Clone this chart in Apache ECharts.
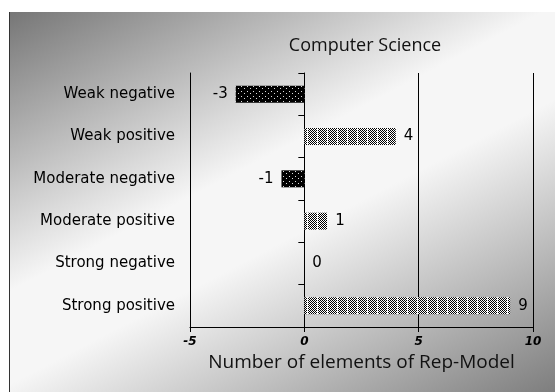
<!DOCTYPE html>
<html>
<head>
<meta charset="utf-8">
<script src="https://cdn.jsdelivr.net/npm/echarts@6/dist/echarts.min.js"></script>
<style>html,body{margin:0;padding:0;background:#fff;}#chart{width:555px;height:392px;}</style>
</head>
<body>
<div id="chart"></div>
<script>
var titleText = 'Computer Science';
var axisTitle = 'Number of elements of Rep-Model';
var categories = ['Weak negative', 'Weak positive', 'Moderate negative', 'Moderate positive', 'Strong negative', 'Strong positive'];
var values = [-3, 4, -1, 1, 0, 9];
var xTicks = [-5, 0, 5, 10];

function makeCanvas(w, h, draw) {
  var c = document.createElement('canvas');
  c.width = w; c.height = h;
  var ctx = c.getContext('2d');
  draw(ctx);
  return c;
}
// black with sparse white dots
var negPattern = makeCanvas(6, 5, function (ctx) {
  ctx.fillStyle = '#000'; ctx.fillRect(0, 0, 6, 5);
  ctx.fillStyle = '#ddd';
  ctx.fillRect(1, 1, 1, 1);
  ctx.fillRect(4, 3, 1, 1);
});
// dense checker dither
var posPattern = makeCanvas(10, 4, function (ctx) {
  ctx.fillStyle = '#fff'; ctx.fillRect(0, 0, 10, 4);
  ctx.fillStyle = '#000';
  for (var y = 0; y < 4; y++) {
    for (var x = 0; x < 10; x++) {
      if ((x + y) % 2 === 0 && !(x === 7 && y % 2 === 1)) ctx.fillRect(x, y, 1, 1);
    }
  }
});

var chart = echarts.init(document.getElementById('chart'), null, {renderer: 'canvas'});

var barData = values.map(function (v) {
  return {
    value: v,
    itemStyle: {color: {image: v < 0 ? negPattern : posPattern, repeat: 'repeat'}},
    label: {position: v < 0 ? 'left' : 'right'}
  };
});

var bgGradient = new echarts.graphic.LinearGradient(9, 12, 282.5, 534.7, [
  {offset: 0, color: '#767676'},
  {offset: 0.42, color: '#f6f6f6'},
  {offset: 0.56, color: '#f6f6f6'},
  {offset: 1, color: '#7e7e7e'}
], true);

chart.setOption({
  animation: false,
  backgroundColor: '#ffffff',
  graphic: [
    {type: 'rect', z: -10, silent: true, shape: {x: 9, y: 12, width: 546, height: 380}, style: {fill: bgGradient}},
    {type: 'line', z: -9, silent: true, shape: {x1: 9.5, y1: 12, x2: 9.5, y2: 392}, style: {stroke: '#333', lineWidth: 1}}
  ],
  title: {
    text: titleText,
    left: 360,
    top: 32,
    textAlign: 'center',
    textStyle: {fontFamily: 'Open Sans', fontSize: 18, fontWeight: 'normal', color: '#111'}
  },
  grid: {left: 190, right: 22, top: 73, bottom: 65, containLabel: false},
  xAxis: {
    type: 'value',
    min: xTicks[0],
    max: xTicks[xTicks.length - 1],
    interval: 5,
    axisLine: {show: true, onZero: false, lineStyle: {color: '#000', width: 1}},
    axisTick: {show: true, length: 5, lineStyle: {color: '#000'}},
    splitLine: {show: true, lineStyle: {color: '#000', width: 1}},
    axisLabel: {margin: 9, color: '#000', fontFamily: 'DejaVu Sans', fontSize: 12, fontWeight: 'bold', fontStyle: 'italic'},
    name: axisTitle,
    nameLocation: 'middle',
    nameGap: 24,
    nameTextStyle: {fontFamily: 'Open Sans', fontSize: 19, color: '#111'}
  },
  yAxis: [
    {
      type: 'category',
      data: categories,
      inverse: true,
      position: 'left',
      axisLine: {show: true, onZero: false, lineStyle: {color: '#000'}},
      axisTick: {show: false},
      splitLine: {show: false},
      axisLabel: {margin: 15, color: '#000', fontFamily: 'DejaVu Sans', fontSize: 15}
    },
    {
      type: 'category',
      data: categories,
      inverse: true,
      position: 'left',
      axisLine: {show: true, onZero: true, lineStyle: {color: '#000'}},
      axisTick: {show: true, length: 6, lineStyle: {color: '#000'}},
      axisLabel: {show: false},
      splitLine: {show: false}
    }
  ],
  series: [{
    type: 'bar',
    yAxisIndex: 0,
    barWidth: 17,
    data: barData,
    label: {show: true, distance: 8, color: '#000', fontFamily: 'DejaVu Sans', fontSize: 15}
  }]
});
</script>
</body>
</html>
